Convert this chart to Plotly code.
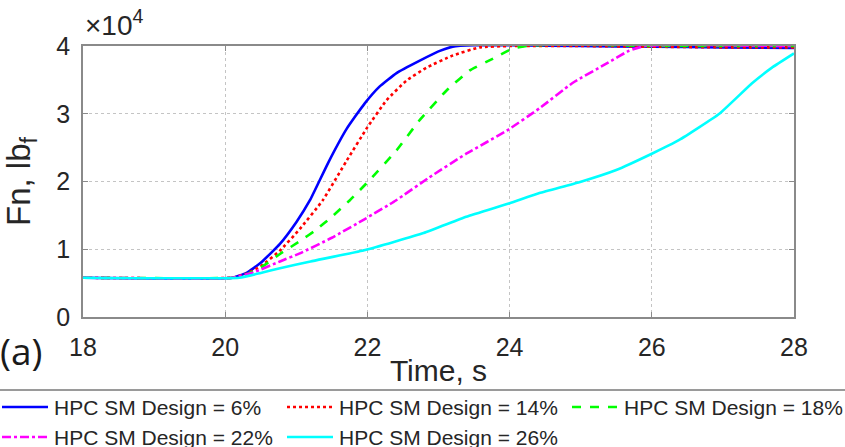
import plotly.graph_objects as go

# ---- data ----
t_6 = [18, 20.1, 20.3, 20.5, 20.77, 21.0, 21.19, 21.45, 21.71, 21.96, 22.17, 22.41, 22.73, 23.0, 23.2, 23.5, 24, 25, 26, 27, 28]
fn_6 = [5800, 5800, 6500, 8000, 10800, 14000, 17200, 22800, 27800, 31500, 34000, 36000, 37800, 39200, 39900, 40100, 40100, 40000, 39900, 39800, 39700]

t_14 = [18, 20.1, 20.3, 20.5, 20.77, 21.05, 21.37, 21.71, 22.0, 22.27, 22.55, 22.83, 23.2, 23.58, 24, 25, 26, 27, 28]
fn_14 = [5800, 5800, 6400, 7500, 9800, 13000, 17200, 23100, 28000, 32000, 34900, 36800, 38600, 39800, 40000, 40000, 39900, 39800, 39800]

t_18 = [18, 20.1, 20.3, 20.5, 20.77, 21.05, 21.27, 21.5, 21.75, 22.03, 22.41, 22.73, 23.11, 23.44, 23.76, 24.04, 24.3, 25, 26, 27, 28]
fn_18 = [5800, 5800, 6300, 7300, 9300, 11200, 12800, 14800, 17200, 20200, 24600, 29000, 33400, 36400, 38100, 39600, 40100, 40200, 40000, 40000, 40000]

t_22 = [18, 20.1, 20.4, 20.77, 21.05, 21.5, 21.97, 22.4, 22.87, 23.39, 23.96, 24.42, 24.88, 25.36, 25.68, 25.9, 26.5, 27, 28]
fn_22 = [5800, 5800, 6600, 8200, 9400, 11700, 14500, 17200, 20600, 24100, 27500, 30800, 34500, 37400, 39300, 40000, 40200, 40100, 40000]

t_26 = [18, 20.2, 20.5, 20.77, 21.2, 21.97, 22.79, 23.39, 24.0, 24.42, 24.98, 25.5, 26.0, 26.38, 26.95, 27.41, 27.69, 28]
fn_26 = [5800, 5800, 6500, 7200, 8200, 9900, 12400, 14800, 16800, 18300, 19900, 21700, 24100, 26100, 30000, 34500, 36800, 38900]

series_names = ["HPC SM Design = 6%", "HPC SM Design = 14%", "HPC SM Design = 18%",
                "HPC SM Design = 22%", "HPC SM Design = 26%"]
series_t = [t_6, t_14, t_18, t_22, t_26]
series_fn = [fn_6, fn_14, fn_18, fn_22, fn_26]
colors = ["#0000FF", "#FF0000", "#00FF00", "#FF00FF", "#00FFFF"]
dashes = ["solid", "dot", "dash", "dashdot", "solid"]

x_ticks = [18, 20, 22, 24, 26, 28]
y_ticks = [0, 10000, 20000, 30000, 40000]
y_ticktext = ["0", "1", "2", "3", "4"]

fig = go.Figure()
for name, t, fn, c, d in zip(series_names, series_t, series_fn, colors, dashes):
    fig.add_trace(go.Scatter(x=t, y=fn, name=name, mode="lines", showlegend=False,
                             line=dict(color=c, width=2.6, dash=d, shape="spline", smoothing=0.4)))

axis_color = "#8a8a8a"
grid_color = "#c4c4c4"
font_main = "Liberation Sans, Arial, sans-serif"

W, H = 845, 447
PLOT_L, PLOT_W, PLOT_B, PLOT_H = 83, 711, 317, 271


def px_x(px):
    return (px - PLOT_L) / PLOT_W


def px_y(py):
    return (PLOT_B - py) / PLOT_H


fig.update_layout(
    width=W, height=H,
    margin=dict(l=83, r=51, t=46, b=130),
    paper_bgcolor="white", plot_bgcolor="white",
    font=dict(family=font_main, color="#262626"),
    showlegend=False,
    xaxis=dict(range=[18, 28], tickvals=x_ticks, showgrid=True, gridcolor=grid_color,
               griddash="dot", gridwidth=1, zeroline=False,
               showline=True, linecolor=axis_color, linewidth=1.6, mirror="ticks",
               ticks="inside", ticklen=5, tickcolor=axis_color, tickwidth=1,
               tickfont=dict(size=25, family=font_main, color="#262626"),
               ticklabelstandoff=7, automargin=False,
               title=dict(text="Time, s", font=dict(size=30, family=font_main, color="#262626"),
                          standoff=0)),
    yaxis=dict(range=[0, 40000], tickvals=y_ticks, ticktext=y_ticktext, showgrid=True,
               gridcolor=grid_color, griddash="dot", gridwidth=1, zeroline=False,
               showline=True, linecolor=axis_color, linewidth=1.6, mirror="ticks",
               ticks="inside", ticklen=5, tickcolor=axis_color, tickwidth=1,
               tickfont=dict(size=25, family=font_main, color="#262626"),
               ticklabelstandoff=6, automargin=False,
               title=dict(text="Fn, lb<sub>f</sub>", font=dict(size=33, family=font_main, color="#262626"),
                          standoff=16)),
)

# exponent label
fig.add_annotation(text="\u00d710<sup>4</sup>", xref="paper", yref="paper", x=0, y=1,
                   xanchor="left", yanchor="bottom", showarrow=False, xshift=0, yshift=3,
                   font=dict(size=28, family=font_main, color="#262626"))
# panel label
fig.add_annotation(text="(a)", xref="paper", yref="paper", x=0, y=0, xanchor="left",
                   yanchor="middle", showarrow=False, xshift=-85, yshift=-33,
                   font=dict(size=37, family="Open Sans, sans-serif", color="#1a1a1a"))
# legend box top edge
fig.add_shape(type="line", xref="paper", yref="paper", x0=px_x(-10), x1=px_x(W + 10),
              y0=px_y(390), y1=px_y(390), line=dict(color="#9a9a9a", width=2))

# legend entries (MATLAB-style 3-column legend below the axes)
legend_cols_px = [2, 287, 572, 2, 287]
legend_rows_px = [407, 407, 407, 437, 437]
for name, c, d, lx, ly in zip(series_names, colors, dashes, legend_cols_px, legend_rows_px):
    fig.add_shape(type="line", xref="paper", yref="paper",
                  x0=px_x(lx), x1=px_x(lx + 46), y0=px_y(ly), y1=px_y(ly),
                  line=dict(color=c, width=2.6, dash=d))
    fig.add_annotation(text=name, xref="paper", yref="paper", x=px_x(lx + 50), y=px_y(ly),
                       xanchor="left", yanchor="middle", showarrow=False,
                       font=dict(size=21, family=font_main, color="#262626"))

fig.write_html("out.html")
